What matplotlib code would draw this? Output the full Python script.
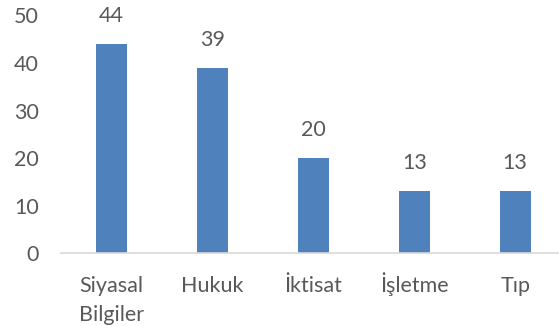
import matplotlib.pyplot as plt
from matplotlib.transforms import offset_copy

plt.rcParams['font.family'] = ['Lato', 'DejaVu Sans']

categories = ['Siyasal\nBilgiler', 'Hukuk', 'İktisat', 'İşletme', 'Tıp']
values = [44, 39, 20, 13, 13]

bar_color = '#4F81BD'
text_color = '#595959'
fsize = 15.5

fig = plt.figure(figsize=(5.59, 3.26), dpi=100)
ax = fig.add_axes([0.109, 0.223, 0.903, 0.730])

x = range(len(categories))
bars = ax.bar(x, values, width=0.31, color=bar_color, zorder=2)

# value labels above each bar
for rect, v in zip(bars, values):
    ax.annotate(str(v), (rect.get_x() + rect.get_width() / 2, v),
                xytext=(0, 13), textcoords='offset points',
                ha='center', va='bottom', fontsize=fsize, color=text_color)

ax.set_xlim(-0.5, 4.5)
ax.set_ylim(0, 50)
ax.set_yticks(range(0, 51, 10))
ax.set_xticks(list(x))
ax.set_xticklabels([])

# category names, one text per line so every first line shares a baseline
trans = ax.get_xaxis_transform()
for i, cat in enumerate(categories):
    for j, line in enumerate(cat.split('\n')):
        t = offset_copy(trans, fig=fig, y=-(39 + 28.5 * j), units='dots')
        ax.text(i, 0, line, transform=t, ha='center', va='baseline',
                fontsize=fsize, color=text_color)

for s in ['top', 'right', 'left']:
    ax.spines[s].set_visible(False)
ax.spines['bottom'].set_color('#D9D9D9')
ax.spines['bottom'].set_linewidth(1.2)

ax.tick_params(axis='y', length=0, pad=16, labelsize=fsize, labelcolor=text_color)
ax.tick_params(axis='x', length=0)

fig.savefig('out.png', dpi=100)
